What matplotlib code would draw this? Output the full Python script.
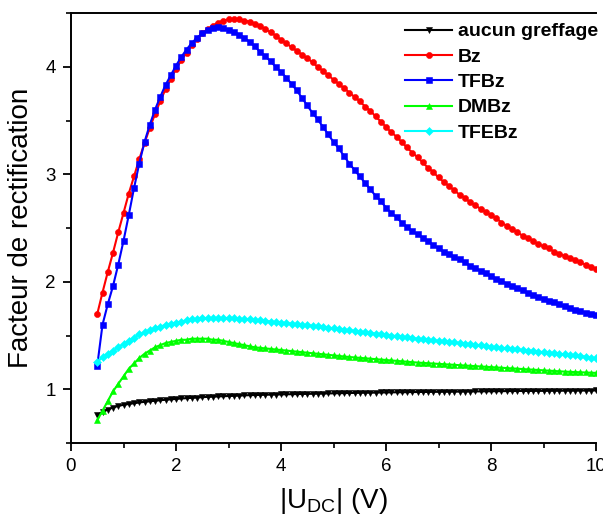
import numpy as np
import matplotlib
matplotlib.use("Agg")
import matplotlib.pyplot as plt
from matplotlib.ticker import MultipleLocator

plt.rcParams['font.family'] = ['Liberation Sans', 'DejaVu Sans']
plt.rcParams['mathtext.fontset'] = 'custom'
plt.rcParams['mathtext.rm'] = 'Liberation Sans'

u_dc = [round(0.5 + 0.1 * i, 1) for i in range(96)]

aucun = [0.76, 0.79, 0.81, 0.83, 0.845, 0.855, 0.863, 0.870, 0.877, 0.883,
         0.888, 0.893, 0.898, 0.902, 0.906, 0.910, 0.914, 0.917, 0.920, 0.923,
         0.926, 0.929, 0.931, 0.933, 0.935, 0.937, 0.939, 0.941, 0.943, 0.945,
         0.946, 0.947, 0.949, 0.950, 0.951, 0.952, 0.953, 0.954, 0.955, 0.956,
         0.957, 0.958, 0.959, 0.960, 0.961, 0.962, 0.963, 0.964, 0.965, 0.966,
         0.967, 0.968, 0.968, 0.969, 0.970, 0.970, 0.971, 0.972, 0.972, 0.973,
         0.974, 0.974, 0.975, 0.975, 0.976, 0.976, 0.977, 0.977, 0.978, 0.978,
         0.979, 0.979, 0.980, 0.980, 0.981, 0.981, 0.982, 0.982, 0.983, 0.983,
         0.984, 0.984, 0.984, 0.985, 0.985, 0.985, 0.986, 0.986, 0.986, 0.987,
         0.987, 0.987, 0.988, 0.988, 0.988, 0.989]

bz = [1.70, 1.90, 2.09, 2.27, 2.46, 2.64, 2.82, 2.98, 3.14, 3.29,
      3.43, 3.56, 3.68, 3.79, 3.89, 3.98, 4.06, 4.13, 4.20, 4.26,
      4.31, 4.35, 4.38, 4.41, 4.43, 4.44, 4.44, 4.44, 4.43, 4.42,
      4.40, 4.38, 4.35, 4.32, 4.29, 4.25, 4.22, 4.18, 4.15, 4.11,
      4.08, 4.04, 4.00, 3.96, 3.92, 3.88, 3.84, 3.80, 3.76, 3.72,
      3.68, 3.63, 3.59, 3.54, 3.49, 3.44, 3.39, 3.35, 3.30, 3.25,
      3.20, 3.16, 3.11, 3.06, 3.02, 2.97, 2.93, 2.89, 2.85, 2.81,
      2.78, 2.74, 2.71, 2.68, 2.65, 2.62, 2.59, 2.55, 2.52, 2.49,
      2.46, 2.43, 2.41, 2.38, 2.35, 2.33, 2.31, 2.28, 2.26, 2.24,
      2.22, 2.20, 2.18, 2.16, 2.14, 2.12]

tfbz = [1.22, 1.60, 1.79, 1.96, 2.16, 2.38, 2.62, 2.87, 3.10, 3.30,
        3.46, 3.60, 3.72, 3.83, 3.92, 4.01, 4.09, 4.16, 4.22, 4.27,
        4.31, 4.34, 4.36, 4.37, 4.36, 4.34, 4.32, 4.30, 4.27, 4.23,
        4.19, 4.14, 4.10, 4.05, 4.00, 3.95, 3.90, 3.84, 3.78, 3.71,
        3.64, 3.57, 3.51, 3.44, 3.37, 3.30, 3.24, 3.17, 3.10, 3.04,
        2.98, 2.92, 2.86, 2.80, 2.75, 2.69, 2.64, 2.60, 2.55, 2.51,
        2.47, 2.44, 2.41, 2.38, 2.34, 2.31, 2.28, 2.26, 2.23, 2.21,
        2.18, 2.15, 2.13, 2.10, 2.08, 2.05, 2.03, 2.01, 1.98, 1.96,
        1.94, 1.92, 1.90, 1.88, 1.86, 1.84, 1.82, 1.81, 1.79, 1.77,
        1.76, 1.74, 1.73, 1.71, 1.70, 1.69]

dmbz = [0.71, 0.80, 0.89, 0.98, 1.05, 1.12, 1.19, 1.24, 1.29, 1.33,
        1.36, 1.39, 1.41, 1.43, 1.44, 1.45, 1.46, 1.46, 1.47, 1.47,
        1.47, 1.47, 1.46, 1.46, 1.45, 1.44, 1.43, 1.42, 1.41, 1.40,
        1.39, 1.385, 1.38, 1.375, 1.37, 1.365, 1.36, 1.355, 1.35, 1.345,
        1.34, 1.335, 1.33, 1.325, 1.32, 1.315, 1.31, 1.305, 1.30, 1.296,
        1.292, 1.288, 1.284, 1.280, 1.276, 1.272, 1.268, 1.264, 1.260, 1.256,
        1.252, 1.248, 1.245, 1.242, 1.239, 1.236, 1.233, 1.230, 1.227, 1.224,
        1.221, 1.218, 1.215, 1.212, 1.209, 1.206, 1.203, 1.200, 1.197, 1.194,
        1.191, 1.188, 1.185, 1.182, 1.179, 1.176, 1.173, 1.170, 1.167, 1.164,
        1.162, 1.160, 1.158, 1.156, 1.154, 1.152]

tfebz = [1.25, 1.30, 1.33, 1.36, 1.39, 1.42, 1.45, 1.48, 1.51, 1.53,
         1.55, 1.57, 1.58, 1.60, 1.61, 1.62, 1.63, 1.64, 1.65, 1.65,
         1.66, 1.66, 1.66, 1.66, 1.66, 1.66, 1.66, 1.65, 1.65, 1.65,
         1.64, 1.64, 1.635, 1.63, 1.625, 1.62, 1.615, 1.61, 1.605, 1.60,
         1.595, 1.59, 1.584, 1.578, 1.572, 1.566, 1.560, 1.554, 1.548, 1.542,
         1.536, 1.530, 1.524, 1.518, 1.512, 1.506, 1.500, 1.494, 1.488, 1.482,
         1.476, 1.470, 1.465, 1.460, 1.455, 1.450, 1.445, 1.440, 1.435, 1.430,
         1.425, 1.420, 1.414, 1.408, 1.402, 1.396, 1.390, 1.385, 1.380, 1.375,
         1.370, 1.365, 1.360, 1.355, 1.350, 1.345, 1.340, 1.335, 1.330, 1.325,
         1.320, 1.315, 1.310, 1.302, 1.295, 1.288]

labels = ["aucun greffage", "Bz", "TFBz", "DMBz", "TFEBz"]
series = [aucun, bz, tfbz, dmbz, tfebz]
colors = ["#000000", "#ff0000", "#0000ff", "#00ff00", "#00ffff"]
markers = ["v", "o", "s", "^", "D"]
msizes = [4.6, 4.4, 3.9, 4.6, 3.7]

fig = plt.figure(figsize=(6.03, 5.2), dpi=100)
ax = fig.add_axes([71/603, 1-443/520, 525/603, 430/520])

for ys, lab, c, m, ms in zip(series, labels, colors, markers, msizes):
    ax.plot(u_dc, ys, color=c, marker=m, markersize=ms,
            lw=1.5, label=lab, markeredgewidth=0.4)

ax.set_xlim(0, 10)
ax.set_ylim(0.5, 4.5)
ax.xaxis.set_major_locator(MultipleLocator(2))
ax.xaxis.set_minor_locator(MultipleLocator(1))
ax.yaxis.set_major_locator(MultipleLocator(1))
ax.yaxis.set_minor_locator(MultipleLocator(0.5))
ax.tick_params(which='major', direction='out', length=6, width=1.3, labelsize=13.5, pad=5)
ax.tick_params(which='minor', direction='out', length=3.5, width=1.2)
ax.spines['right'].set_visible(False)
for s in ['left', 'bottom', 'top']:
    ax.spines[s].set_linewidth(1.4)

ax.set_xlabel(r"|U$_{\mathrm{DC}}$| (V)", fontsize=20, labelpad=8)
ax.set_ylabel("Facteur de rectification", fontsize=20, labelpad=8)

leg = fig.legend(loc='upper right', bbox_to_anchor=(1.008, 0.975), frameon=False,
                 prop={'weight': 'bold', 'size': 14}, numpoints=1,
                 handlelength=2.4, handletextpad=0.3, labelspacing=0.4,
                 borderaxespad=0.1)

fig.savefig("out.png", dpi=100, facecolor='white')
